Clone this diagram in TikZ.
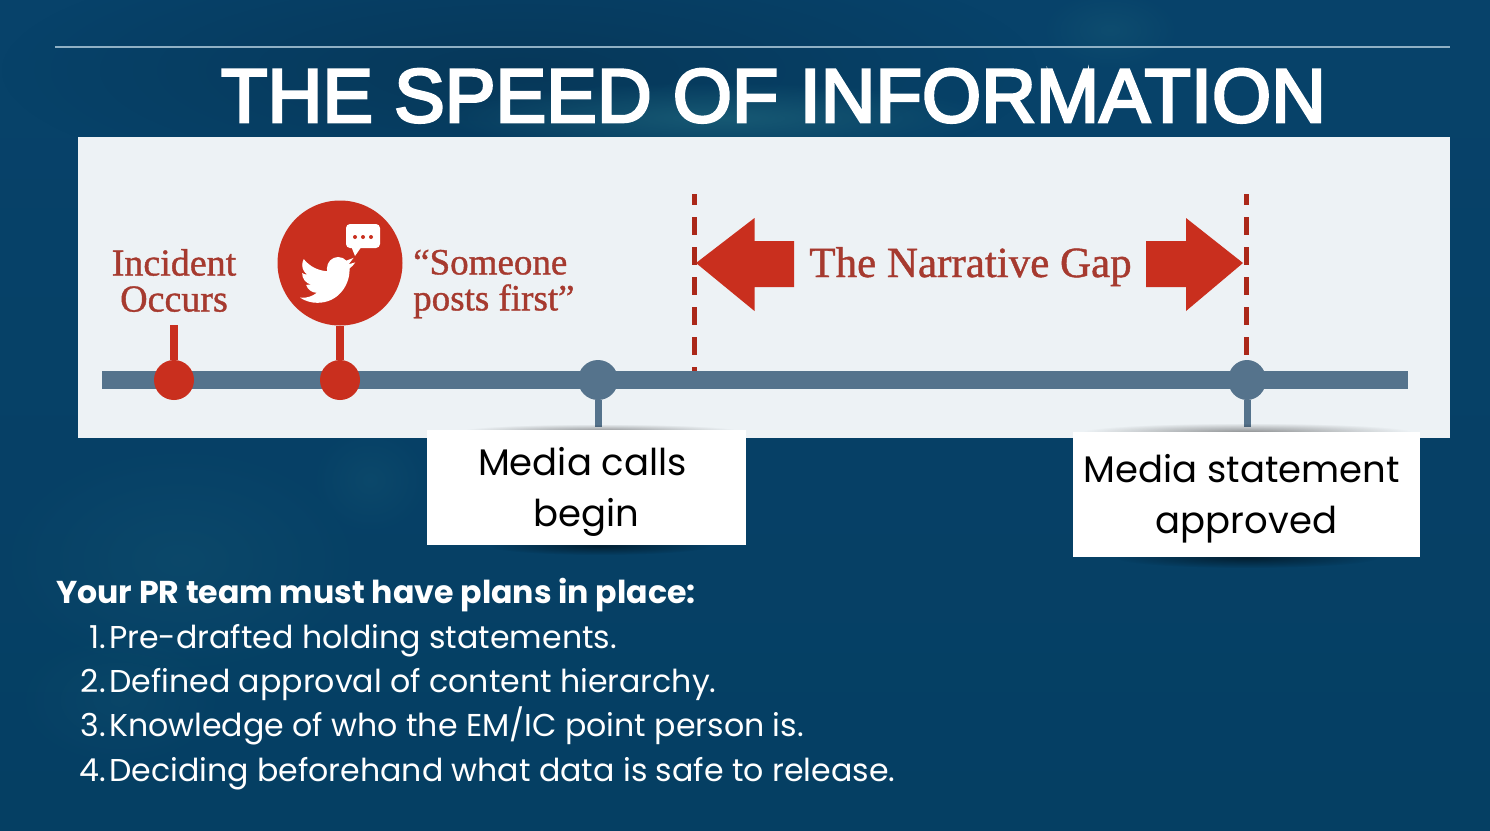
\documentclass[tikz,border=0pt]{standalone}
\usepackage{fontspec}
\setmainfont{Poppins}
\newfontfamily\titlefont[FakeBold=3.5]{Liberation Sans}
\newfontfamily\serifcap[FakeBold=1]{Liberation Serif}
\usetikzlibrary{fadings}
\tikzfading[name=softedge,inner color=transparent!0,outer color=transparent!100]
\definecolor{bgbase}{HTML}{07426A}
\definecolor{bgedge}{HTML}{053F63}
\definecolor{bglight}{HTML}{1B6078}
\definecolor{panelc}{HTML}{EDF2F5}
\definecolor{barc}{HTML}{55738C}
\definecolor{redc}{HTML}{C92F1E}
\definecolor{redtext}{HTML}{A63A2F}
\definecolor{rulec}{HTML}{8FB0C4}
\tikzset{
  titletext/.style={text=white,inner sep=0pt,font=\titlefont\fontsize{76}{76}\selectfont},
  serifred/.style={text=redtext,inner sep=0pt,align=center,font=\serifcap\fontsize{38}{36}\selectfont},
  captionbox/.style={inner sep=0pt,align=center,text=black,font=\fontsize{37}{51}\selectfont},
  boldline/.style={text=white,inner sep=0pt,anchor=base west,font=\bfseries\fontsize{31.6}{36}\selectfont},
  bodyline/.style={text=white,inner sep=0pt,anchor=base west,font=\fontsize{31.6}{36}\selectfont},
  numline/.style={text=white,inner sep=0pt,anchor=base east,font=\fontsize{31.6}{36}\selectfont},
  reddot/.style={circle,fill=redc,inner sep=0pt,minimum size=40pt},
  bluedot/.style={circle,fill=barc,inner sep=0pt,minimum size=40pt},
  redstem/.style={draw=redc,line width=7.5pt},
  bluestem/.style={draw=barc,line width=7pt},
  gapline/.style={draw=redc!85!black,line width=5pt,dash pattern=on 18pt off 12pt,dash phase=7pt},
  glow/.style={fill=bglight,path fading=softedge,opacity=0.55},
  dropshade/.style={fill=black,path fading=softedge,opacity=0.4}
}
\begin{document}
\begin{tikzpicture}[x=1pt,y=-1pt]
\useasboundingbox (0,0) rectangle (1490,830);
% background
\fill[top color=bgbase,bottom color=bgedge] (0,0) rectangle (1490,830);
\fill[fill=black!60!bgbase,path fading=softedge,opacity=.25] (520,70) ellipse (520 and 130);
\fill[glow,opacity=.8] (720,118) ellipse (280 and 36);
\fill[glow,opacity=.25] (370,480) ellipse (60 and 55);
\fill[glow,opacity=.25] (180,560) ellipse (190 and 120);
\fill[glow,opacity=.35] (1110,30) ellipse (70 and 40);
\fill[glow,opacity=.2] (120,700) ellipse (110 and 70);
% header
\coordinate (ruleL) at (55,47);
\coordinate (ruleR) at (1450,47);
\draw[rulec,line width=1.2pt] (ruleL) -- (ruleR);
\node[titletext,anchor=base] (title) at (773.5,122) {THE SPEED OF INFORMATION};
% panel
\fill[panelc] (78,137) rectangle (1450,438);
% timeline
\coordinate (barL) at (102,380);
\coordinate (barR) at (1408,380);
\draw[draw=barc,line width=18pt] (barL) -- (barR);
% gap lines
\coordinate (gapAtop) at (694,194);
\coordinate (gapAbot) at (694,371);
\coordinate (gapBtop) at (1246.5,194);
\coordinate (gapBbot) at (1246.5,360);
\draw[gapline] (gapAtop) -- (gapAbot);
\draw[gapline] (gapBtop) -- (gapBbot);
% arrows
\fill[redc] (696,263) -- (754.5,218) -- (754.5,241) -- (794,241) -- (794,287) -- (754.5,287) -- (754.5,311) -- cycle;
\fill[redc] (1243,263) -- (1186,218) -- (1186,241) -- (1146,241) -- (1146,287) -- (1186,287) -- (1186,311) -- cycle;
\node[serifred,anchor=base] (gaplabel) at (970.5,277) {\fontsize{43}{43}\selectfont The Narrative Gap};
% red markers
\node[reddot] (dotA) at (174,380) {};
\node[reddot] (dotB) at (340,380) {};
\node[circle,fill=redc,inner sep=0pt,minimum size=125pt] (bigc) at (340,263) {};
\coordinate (stemAtop) at (174,325);
\draw[redstem] (dotA) -- (stemAtop);
\draw[redstem] (dotB) -- (bigc);
% bird
\begin{scope}[shift={(300,251.7)},x=2.3pt,y=-2.35pt]
\fill[white] (23.95,4.57) -- (21.13,5.35) -- (23.29,2.62) -- (20.16,3.80)
 .. controls (19.3,2.9) and (18.0,2.25) .. (16.6,2.25)
 .. controls (13.9,2.25) and (11.7,4.45) .. (11.7,7.17)
 .. controls (11.7,7.55) and (11.74,7.92) .. (11.82,8.29)
 .. controls (7.69,8.095) and (4.07,6.13) .. (1.64,3.16)
 .. controls (1.22,3.89) and (0.97,4.73) .. (0.97,5.64)
 .. controls (0.97,7.35) and (1.84,8.85) .. (3.16,9.73)
 .. controls (2.36,9.71) and (1.6,9.49) .. (0.93,9.12)
 -- (0.93,9.18)
 .. controls (0.93,11.56) and (2.63,13.55) .. (4.88,14.0)
 .. controls (4.17,14.2) and (3.42,14.22) .. (2.66,14.09)
 .. controls (3.3,16.05) and (5.1,17.46) .. (7.27,17.5)
 .. controls (5.53,18.86) and (3.38,19.6) .. (1.17,19.6)
 .. controls (0.78,19.6) and (0.39,19.58) .. (0,19.54)
 .. controls (2.2,20.97) and (4.8,21.75) .. (7.56,21.75)
 .. controls (16.6,21.75) and (21.55,14.25) .. (21.55,7.76)
 .. controls (21.55,7.55) and (21.55,7.34) .. (21.54,7.13)
 .. controls (22.5,6.44) and (23.34,5.57) .. (24,4.59) -- cycle;
\end{scope}
% speech bubble
\fill[white,rounded corners=4pt] (346,224) rectangle (380,248);
\fill[white] (351,246) -- (355,256) -- (362,246) -- cycle;
\foreach \dx in {355,363,371} \fill[redc] (\dx,237) circle (2);
% labels
\node[serifred] (incident) at (174,280.5) {Incident\\Occurs};
\node[serifred,align=left,anchor=west,font=\serifcap\fontsize{37}{36}\selectfont] (someone) at (413,284) {“Someone\\posts first”};
% blue markers
\node[bluedot] (dotC) at (598,380) {};
\node[bluedot,xscale=.95] (dotD) at (1247,380) {};
\coordinate (stemC) at (598,427);
\coordinate (stemD) at (1247,427);
\draw[bluestem] (dotC) -- (stemC);
\draw[bluestem] (dotD) -- (stemD);
% shadows
\fill[dropshade] (600,431) ellipse (140 and 7);
\fill[dropshade] (1247,432) ellipse (165 and 9);
\fill[dropshade,opacity=.5] (600,546) ellipse (110 and 9);
\fill[dropshade,opacity=.5] (1247,558) ellipse (130 and 10);
% captions
\fill[white] (427,430) rectangle (746,545);
\fill[white] (1073,432) rectangle (1420,557);
\node[captionbox] (media) at (586.5,492) {\hspace*{-8pt}Media calls\\begin};
\node[captionbox] (statement) at (1246.5,499) {\hspace*{-9pt}Media statement\\approved};
% body
\node[boldline] (head) at (56,603.7) {Your PR team must have plans in place:};
\node[numline] (n1) at (106,648) {1.};
\node[bodyline] (l1) at (109,648) {Pre-drafted holding statements.};
\node[numline] (n2) at (106,692) {2.};
\node[bodyline] (l2) at (109,692) {Defined approval of content hierarchy.};
\node[numline] (n3) at (106,736.7) {3.};
\node[bodyline] (l3) at (109,736.7) {Knowledge of who the EM/IC point person is.};
\node[numline] (n4) at (106,781) {4.};
\node[bodyline] (l4) at (109,781) {Deciding beforehand what data is safe to release.};
\end{tikzpicture}
\end{document}
